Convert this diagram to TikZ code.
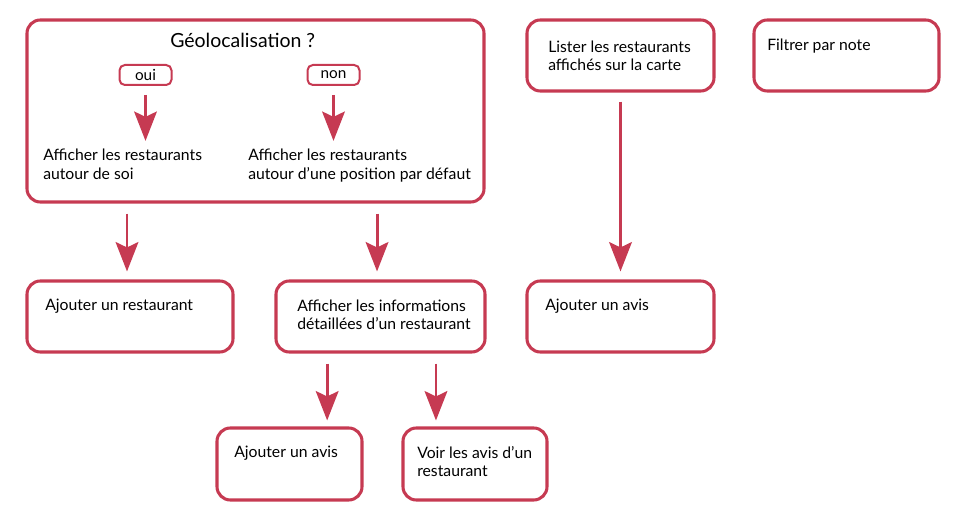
\documentclass[tikz,border=0pt]{standalone}
\usepackage{fontspec}
\setmainfont{Lato}
\usetikzlibrary{arrows.meta}
\usetikzlibrary{fit}
\definecolor{rouge}{RGB}{198,58,82}

\tikzset{
  box/.style={draw=rouge, line width=2.3pt, rounded corners=10pt, inner sep=0pt},
  tag/.style={draw=rouge, line width=1.5pt, rounded corners=4pt, minimum width=39pt,
    minimum height=15pt, inner sep=0pt, font=\fontsize{11.5}{14}\selectfont},
  txt/.style={anchor=base west, inner sep=0pt, align=left, font=\fontsize{11.8}{14}\selectfont},
  arr/.style={draw=rouge, line width=2.2pt, -{Stealth[length=22pt,width=17pt,inset=4pt]}},
}

\begin{document}
\begin{tikzpicture}[x=0.75pt,y=-0.75pt]
    \useasboundingbox (0,0) rectangle (967,523);
    % rangee du haut
    \node[box, fit={(27,20) (484,202)}] (geo) {};
    \node[box, fit={(527,20) (714,91)}] (lister) {};
    \node[box, fit={(754,20) (939,91)}] (filtre) {};
    \node[txt, font=\fontsize{14.6}{16}\selectfont] (titre) at (170,48) {Géolocalisation ?};
    \node[tag] (oui) at (145.5,75) {oui};
    \node[tag] (non) at (333.5,75) {non};
    \node[txt] (soi) at (43,179.4) {Afficher les restaurants\\autour de soi};
    \node[txt] (defaut) at (248,179.4) {Afficher les restaurants\\autour d’une position par défaut};
    \node[txt] (ltxt) at (548,71) {Lister les restaurants\\affichés sur la carte};
    \node[txt] (ftxt) at (767,51) {Filtrer par note};
    %
    \draw[arr, shorten <=6.75pt, shorten >=6pt] (oui.south) -- (oui.south |- soi.north);
    \draw[arr, shorten <=6.75pt, shorten >=6pt] (non.south) -- (non.south |- defaut.north);
    % rangee du milieu
    \node[box, fit={(27,281) (233,352)}] (ajout) {};
    \node[box, fit={(276,281) (485,352)}] (info) {};
    \node[box, fit={(527,281) (714,352)}] (avis) {};
    \node[txt] (ajtxt) at (45,311) {Ajouter un restaurant};
    \node[txt] (infotxt) at (297,329.7) {Afficher les informations\\détaillées d’un restaurant};
    \node[txt] (avtxt) at (545,311) {Ajouter un avis};
    %
    \draw[arr, shorten <=7.5pt, shorten >=6pt] ([xshift=-2.25pt]ajout.north |- geo.south) -- ([xshift=-2.25pt]ajout.north);
    \draw[arr, shorten <=7.5pt, shorten >=6pt] ([xshift=-2.6pt]info.north |- geo.south) -- ([xshift=-2.6pt]info.north);
    \draw[arr, shorten <=6.75pt, shorten >=6pt] (lister.south) -- (lister.south |- avis.north);
    % rangee du bas
    \node[box, fit={(217,428) (362,500)}] (avis2) {};
    \node[box, fit={(403,428) (547,500)}] (voir) {};
    \node[txt] (av2txt) at (234,458) {Ajouter un avis};
    \node[txt] (voirtxt) at (417,476.7) {Voir les avis d’un\\restaurant};
    %
    \draw[arr, shorten <=7.5pt, shorten >=4.5pt] ([xshift=-40pt]info.south) -- ([xshift=-40pt]info.south |- avis2.north);
    \draw[arr, shorten <=7.5pt, shorten >=4.5pt] ([xshift=41.6pt]info.south) -- ([xshift=41.6pt]info.south |- voir.north);
\end{tikzpicture}
\end{document}
